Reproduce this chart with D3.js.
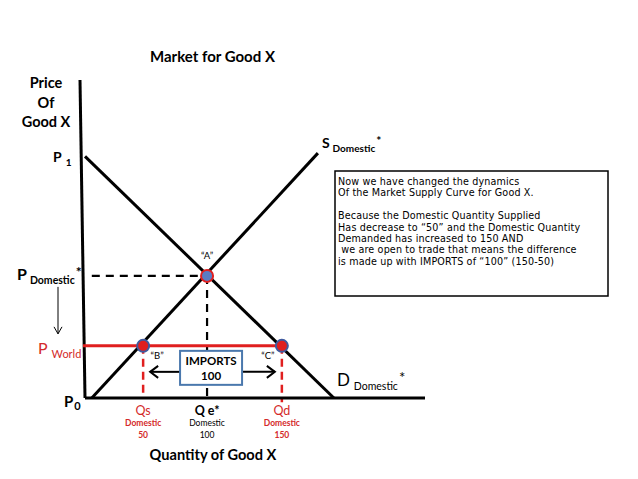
<!DOCTYPE html>
<html>
<head>
<meta charset="utf-8">
<script src="https://cdn.jsdelivr.net/npm/d3@7"></script>
<style>
  body { margin: 0; background: #fff; }
  svg { font-family: Lato, "Open Sans", sans-serif; }
</style>
</head>
<body>
<div id="chart"></div>
<script>
// chart units: quantity 0..100 across, price 0..100 up
const demandQ = [0, 73.2];
const demandP = [76, 0];
const supplyQ = [2, 68.5];
const supplyP = [0, 77];

const pWorld = 16.4;
const pDomestic = 38.4;
const p1 = 76;

const qSupplied = 17.1;
const qEquil = 35.9;
const qDemanded = 57.9;

const qtyLabels = ['50', '100', '150'];
const importsValue = '100';

const noteLines = [
  'Now we have changed the dynamics',
  'Of the Market Supply Curve for Good X.',
  '',
  'Because the Domestic Quantity Supplied',
  'Has decrease to \u201c50\u201d and the Domestic Quantity',
  'Demanded has increased to 150 AND',
  ' we are open to trade that means the difference',
  'is made up with IMPORTS of \u201c100\u201d (150-50)'
];

const width = 638;
const height = 479;
const red = '#e01f1f';
const redText = '#d42a2a';

const svg = d3.select('#chart')
  .append('svg')
  .attr('width', width)
  .attr('height', height);

const x = d3.scaleLinear().domain([0, 100]).range([85, 425]);
const y = d3.scaleLinear().domain([0, 100]).range([398, 80]);

const line = d3.line().x(d => x(d[0])).y(d => y(d[1]));

// -------------------------------------------------------------------------
// Dashed guides

svg.append('path')
  .attr('d', line([[2, pDomestic], [qEquil, pDomestic]]))
  .attr('stroke', '#000').attr('stroke-width', 2.2)
  .attr('stroke-dasharray', '8,6').attr('fill', 'none');

svg.append('path')
  .attr('d', line([[qEquil, pDomestic], [qEquil, 0]]))
  .attr('stroke', '#000').attr('stroke-width', 2.2)
  .attr('stroke-dasharray', '8,6').attr('fill', 'none');

[qSupplied, qDemanded].forEach((q, i) => {
  svg.append('path')
    .attr('d', line([[q, pWorld], [q, i === 0 ? 0 : -1.3]]))
    .attr('stroke', red).attr('stroke-width', 2.5)
    .attr('stroke-dasharray', '8,5').attr('fill', 'none');
});

// -------------------------------------------------------------------------
// Axes

svg.append('line')
  .attr('x1', x(0) - 5).attr('y1', y(100))
  .attr('x2', x(0)).attr('y2', y(0))
  .attr('stroke', '#000').attr('stroke-width', 3);

svg.append('line')
  .attr('x1', x(0)).attr('y1', y(0))
  .attr('x2', x(100)).attr('y2', y(0))
  .attr('stroke', '#000').attr('stroke-width', 3);

// -------------------------------------------------------------------------
// Curves

svg.append('path')
  .attr('d', line(d3.zip(demandQ, demandP)))
  .attr('stroke', '#000').attr('stroke-width', 3).attr('fill', 'none');

svg.append('path')
  .attr('d', line(d3.zip(supplyQ, supplyP)))
  .attr('stroke', '#000').attr('stroke-width', 3).attr('fill', 'none');

svg.append('path')
  .attr('d', line([[-0.6, pWorld], [qDemanded, pWorld]]))
  .attr('stroke', red).attr('stroke-width', 3).attr('fill', 'none');

// -------------------------------------------------------------------------
// Points

const points = [
  {q: qEquil, p: pDomestic, fill: '#5b7cc4', stroke: red, label: '\u201cA\u201d', dx: 0, dy: -17},
  {q: qSupplied, p: pWorld, fill: red, stroke: '#3f5a9e', label: '\u201cB\u201d', dx: 14, dy: 13},
  {q: qDemanded, p: pWorld, fill: red, stroke: '#3f5a9e', label: '\u201cC\u201d', dx: -14, dy: 13}
];

svg.selectAll('circle.pt')
  .data(points)
  .enter()
  .append('circle')
  .attr('class', 'pt')
  .attr('cx', d => x(d.q))
  .attr('cy', d => y(d.p))
  .attr('r', 6)
  .attr('fill', d => d.fill)
  .attr('stroke', d => d.stroke)
  .attr('stroke-width', 2);

svg.selectAll('text.pt')
  .data(points)
  .enter()
  .append('text')
  .attr('class', 'pt')
  .attr('x', d => x(d.q) + d.dx)
  .attr('y', d => y(d.p) + d.dy)
  .attr('text-anchor', 'middle')
  .attr('font-size', 9.5)
  .text(d => d.label);

// -------------------------------------------------------------------------
// Imports box + arrows

const boxX = x(qEquil) - 27;
const boxY = y(pWorld) + 5;
const arrowY = y(pWorld) + 26;

const arrowHead = (tipX, dir) => `M${tipX + dir * 8},${arrowY - 6} L${tipX},${arrowY} L${tipX + dir * 8},${arrowY + 6}`;

svg.append('line')
  .attr('x1', x(qSupplied) + 7).attr('y1', arrowY)
  .attr('x2', boxX).attr('y2', arrowY)
  .attr('stroke', '#000').attr('stroke-width', 2);
svg.append('path')
  .attr('d', arrowHead(x(qSupplied) + 7, 1))
  .attr('stroke', '#000').attr('stroke-width', 2).attr('fill', 'none');

svg.append('line')
  .attr('x1', boxX + 62).attr('y1', arrowY)
  .attr('x2', x(qDemanded) - 7).attr('y2', arrowY)
  .attr('stroke', '#000').attr('stroke-width', 2);
svg.append('path')
  .attr('d', arrowHead(x(qDemanded) - 7, -1))
  .attr('stroke', '#000').attr('stroke-width', 2).attr('fill', 'none');

svg.append('rect')
  .attr('x', boxX).attr('y', boxY)
  .attr('width', 62).attr('height', 34)
  .attr('fill', '#fff')
  .attr('stroke', '#4a78ad').attr('stroke-width', 2);

svg.append('text')
  .attr('x', boxX + 31).attr('y', boxY + 14)
  .attr('text-anchor', 'middle')
  .attr('font-size', 11.5).attr('font-weight', 'bold')
  .text('IMPORTS');
svg.append('text')
  .attr('x', boxX + 31).attr('y', boxY + 29)
  .attr('text-anchor', 'middle')
  .attr('font-size', 11.5).attr('font-weight', 'bold')
  .text(importsValue);

// -------------------------------------------------------------------------
// Titles

svg.append('text')
  .attr('x', 150).attr('y', 62)
  .attr('font-size', 15).attr('font-weight', 'bold')
  .text('Market for  Good X');

svg.append('text')
  .attr('x', 213).attr('y', 460)
  .attr('text-anchor', 'middle')
  .attr('font-size', 14.6).attr('font-weight', 'bold')
  .text('Quantity of Good X');

['Price', 'Of', 'Good X'].forEach((t, i) => {
  svg.append('text')
    .attr('x', 46).attr('y', 88 + i * 19.5)
    .attr('text-anchor', 'middle')
    .attr('font-size', 14.5).attr('font-weight', 'bold')
    .text(t);
});

// -------------------------------------------------------------------------
// Price labels

const sub = (tx, ty, main, small, opts) => {
  const t = svg.append('text')
    .attr('x', tx).attr('y', ty)
    .attr('fill', opts.color || '#000')
    .attr('font-weight', opts.weight || 'bold');
  t.append('tspan').attr('font-size', opts.big).text(main);
  t.append('tspan').attr('font-size', opts.small).attr('dx', opts.gap || 3).attr('dy', opts.drop || 4).text(small);
  if (opts.star) {
    t.append('tspan').attr('font-size', opts.big - 2).attr('dx', 1).attr('dy', opts.rise || -8).text('*');
  }
};

sub(53, y(p1) + 6, 'P', '1', {big: 14, small: 10, gap: 4});
sub(17, y(pDomestic) + 4, 'P', 'Domestic', {big: 16, small: 10.5, star: true, weight: 'bold', drop: 4, rise: -7});
sub(38, y(pWorld) + 8, 'P', 'World', {big: 16, small: 11, color: redText, gap: 4, drop: 4, weight: 'normal'});
sub(64, y(0) + 9, 'P', '0', {big: 15, small: 11, gap: 1, drop: 3});

sub(x(supplyQ[1]) + 4, y(supplyP[1]) - 5, 'S', 'Domestic', {big: 14, small: 10, star: true, rise: -7});
sub(x(demandQ[1]) + 3, y(0) - 12, 'D', 'Domestic', {big: 17, small: 10.5, star: true, weight: 'normal', gap: 4, rise: -7});

// thin arrow from P domestic down to P world
svg.append('line')
  .attr('x1', 58).attr('y1', y(pDomestic) + 11)
  .attr('x2', 58).attr('y2', y(pWorld) - 12)
  .attr('stroke', '#000').attr('stroke-width', 1);
svg.append('path')
  .attr('d', `M54,${y(pWorld) - 19} L58,${y(pWorld) - 12} L62,${y(pWorld) - 19}`)
  .attr('stroke', '#000').attr('stroke-width', 1).attr('fill', 'none');

// -------------------------------------------------------------------------
// Quantity labels

const qLabels = [
  {q: qSupplied, main: 'Qs', color: redText, weight: 'bold', value: qtyLabels[0]},
  {q: qEquil, main: 'Q e*', color: '#000', weight: 'normal', value: qtyLabels[1]},
  {q: qDemanded, main: 'Qd', color: redText, weight: 'bold', value: qtyLabels[2]}
];

qLabels.forEach((d) => {
  svg.append('text')
    .attr('x', x(d.q)).attr('y', y(0) + 17)
    .attr('text-anchor', 'middle')
    .attr('font-size', 12.5).attr('fill', d.color)
    .attr('font-weight', d.q === qEquil ? 'bold' : 'normal')
    .text(d.main);
  svg.append('text')
    .attr('x', x(d.q)).attr('y', y(0) + 28)
    .attr('text-anchor', 'middle')
    .attr('font-size', 8.5).attr('fill', d.color)
    .attr('font-weight', d.weight)
    .text('Domestic');
  svg.append('text')
    .attr('x', x(d.q)).attr('y', y(0) + 40)
    .attr('text-anchor', 'middle')
    .attr('font-size', 8.5).attr('fill', d.color)
    .attr('font-weight', d.weight)
    .text(d.value);
});

// -------------------------------------------------------------------------
// Note box

svg.append('rect')
  .attr('x', 335).attr('y', 171)
  .attr('width', 273).attr('height', 125)
  .attr('fill', '#fff')
  .attr('stroke', '#000').attr('stroke-width', 1.5);

svg.append('g')
  .selectAll('text')
  .data(noteLines)
  .enter()
  .append('text')
  .attr('x', 338)
  .attr('y', (d, i) => 185 + i * 11.4)
  .style('font-family', '"DejaVu Sans", sans-serif')
  .attr('font-size', 9.6)
  .attr('letter-spacing', 0.15)
  .attr('xml:space', 'preserve')
  .style('white-space', 'pre')
  .text(d => d);
</script>
</body>
</html>
